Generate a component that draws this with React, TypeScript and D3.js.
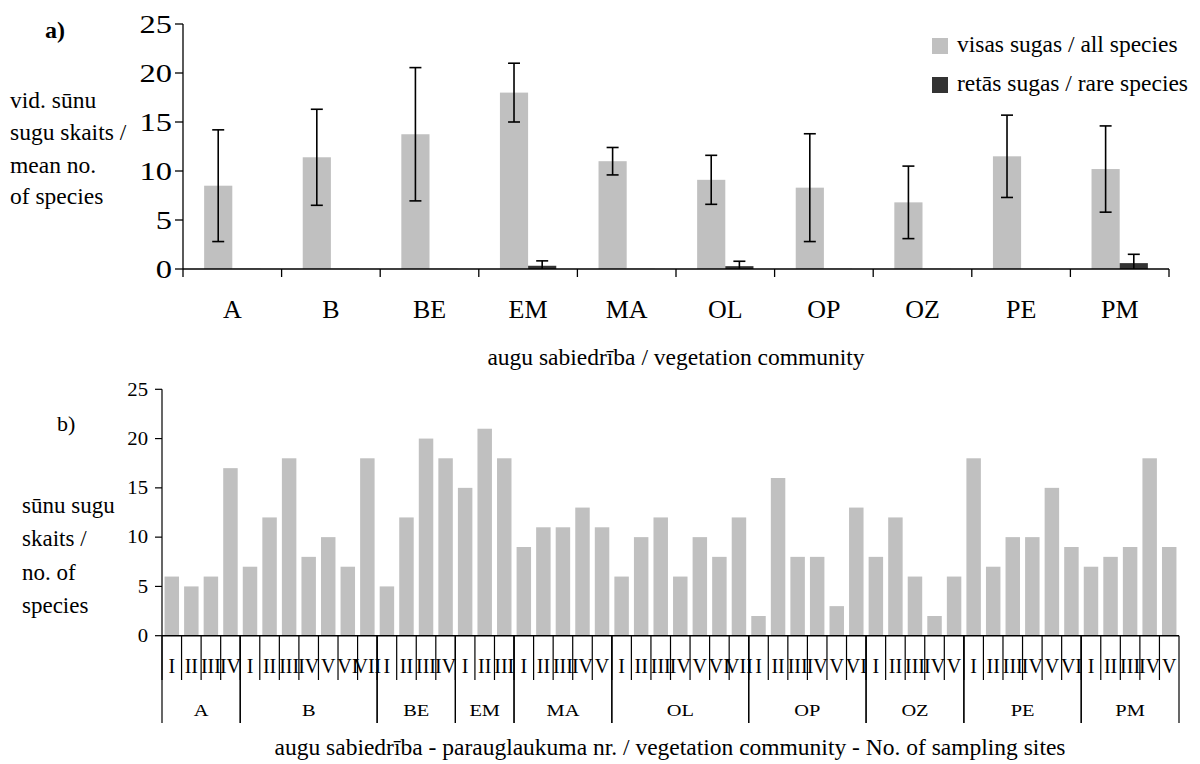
import React from "react";
import * as d3 from "d3";

const communities = ["A", "B", "BE", "EM", "MA", "OL", "OP", "OZ", "PE", "PM"];
const meanAll = [8.5, 11.4, 13.75, 18, 11, 9.1, 8.3, 6.8, 11.5, 10.2];
const sdAll = [5.7, 4.9, 6.8, 3.0, 1.4, 2.5, 5.5, 3.7, 4.2, 4.4];
const meanRare = [0, 0, 0, 0.33, 0, 0.29, 0, 0, 0, 0.6];
const sdRare = [0, 0, 0, 0.5, 0, 0.5, 0, 0, 0, 0.9];

const siteCounts = [4, 7, 4, 3, 5, 7, 6, 5, 6, 5];
const siteValues = [
  6, 5, 6, 17,
  7, 12, 18, 8, 10, 7, 18,
  5, 12, 20, 18,
  15, 21, 18,
  9, 11, 11, 13, 11,
  6, 10, 12, 6, 10, 8, 12,
  2, 16, 8, 8, 3, 13,
  8, 12, 6, 2, 6,
  18, 7, 10, 10, 15, 9,
  7, 8, 9, 18, 9,
];
const romans = ["I", "II", "III", "IV", "V", "VI", "VII"];
const yTicks = [0, 5, 10, 15, 20, 25];

const FONT = "'Liberation Serif', 'Times New Roman', serif";
const GRAY = "#c0c0c0";
const DARK = "#333333";

function T(props: {
  x: number;
  y: number;
  size: number;
  sx?: number;
  anchor?: "start" | "middle" | "end";
  bold?: boolean;
  dy?: string;
  children: React.ReactNode;
}) {
  const { x, y, size, sx = 1, anchor = "start", bold, dy, children } = props;
  return (
    <text
      transform={`translate(${x},${y}) scale(${sx},1)`}
      fontSize={size}
      textAnchor={anchor}
      fontWeight={bold ? "bold" : "normal"}
      dy={dy}
    >
      {children}
    </text>
  );
}

export default function App() {
  // ---- top chart ----
  const yT = d3.scaleLinear().domain([0, 25]).range([269, 24]);
  const xT = d3.scaleBand().domain(communities).range([183, 1169]).padding(0);
  const x1 = d3
    .scaleBand()
    .domain(["all", "rare"])
    .range([0, xT.bandwidth()])
    .paddingInner(0)
    .paddingOuter(0.75);

  // ---- bottom chart ----
  const sites: { id: string; comm: string; roman: string; value: number }[] = [];
  let k = 0;
  communities.forEach((c, ci) => {
    for (let i = 0; i < siteCounts[ci]; i++) {
      sites.push({ id: c + "-" + romans[i], comm: c, roman: romans[i], value: siteValues[k++] });
    }
  });
  const yB = d3.scaleLinear().domain([0, 25]).range([635.7, 389.3]);
  const xB = d3
    .scaleBand()
    .domain(sites.map((s) => s.id))
    .range([162, 1179])
    .paddingInner(0.26)
    .paddingOuter(0.13);
  const step = xB.step();
  const siteLeft = (i: number) => 162 + i * step;

  const groupBounds: { comm: string; start: number; end: number }[] = [];
  let idx = 0;
  communities.forEach((c, ci) => {
    groupBounds.push({ comm: c, start: siteLeft(idx), end: siteLeft(idx + siteCounts[ci]) });
    idx += siteCounts[ci];
  });

  const cap = 6;

  return (
    <svg width={1200} height={764} style={{ position: "absolute", left: 0, top: 0 }} fontFamily={FONT}>
      <rect x={0} y={0} width={1200} height={764} fill="#fff" />
      {/* ===== TOP ===== */}
      <T x={45} y={38} size={24} bold>a)</T>
      {["vid. sūnu", "sugu skaits /", "mean no.", "of species"].map((t, i) => (
        <T key={t} x={10} y={[108, 140, 173, 204][i]} size={23.5}>{t}</T>
      ))}
      {/* bars */}
      {communities.map((c, i) => {
        const x0 = xT(c)!;
        return (
          <g key={c}>
            <rect
              x={x0 + x1("all")!}
              y={yT(meanAll[i])}
              width={x1.bandwidth()}
              height={yT(0) - yT(meanAll[i])}
              fill={GRAY}
            />
            <rect
              x={x0 + x1("rare")!}
              y={yT(meanRare[i]) - (meanRare[i] === 0 ? 1 : 0)}
              width={x1.bandwidth()}
              height={Math.max(1, yT(0) - yT(meanRare[i]))}
              fill={meanRare[i] === 0 ? "#e6e6e6" : DARK}
            />
          </g>
        );
      })}
      {/* error bars */}
      {communities.map((c, i) => {
        const cx = xT(c)! + x1("all")! + x1.bandwidth() / 2;
        const hi = yT(meanAll[i] + sdAll[i]);
        const lo = yT(meanAll[i] - sdAll[i]);
        return (
          <g key={"e" + c} stroke="#000" strokeWidth={1.6}>
            <line x1={cx} x2={cx} y1={hi} y2={lo} />
            <line x1={cx - cap} x2={cx + cap} y1={hi} y2={hi} />
            <line x1={cx - cap} x2={cx + cap} y1={lo} y2={lo} />
          </g>
        );
      })}
      {communities.map((c, i) => {
        if (meanRare[i] === 0) return null;
        const cx = xT(c)! + x1("rare")! + x1.bandwidth() / 2;
        const hi = yT(meanRare[i] + sdRare[i]);
        const lo = yT(Math.max(0, meanRare[i] - sdRare[i]));
        return (
          <g key={"r" + c} stroke="#000" strokeWidth={1.6}>
            <line x1={cx} x2={cx} y1={hi} y2={lo} />
            <line x1={cx - cap} x2={cx + cap} y1={hi} y2={hi} />
          </g>
        );
      })}
      {/* axes */}
      <line x1={183} x2={183} y1={yT(25)} y2={yT(0)} stroke="#000" strokeWidth={1.3} />
      <line x1={183} x2={1169} y1={yT(0)} y2={yT(0)} stroke="#000" strokeWidth={1.3} />
      {yTicks.map((t) => (
        <g key={"yt" + t}>
          <line x1={175} x2={183} y1={yT(t)} y2={yT(t)} stroke="#000" strokeWidth={1.3} />
          <T x={172} y={yT(t)} dy="0.35em" anchor="end" size={25} sx={1.3}>{t}</T>
        </g>
      ))}
      {communities.map((c) => (
        <line key={"xt" + c} x1={xT(c)!} x2={xT(c)!} y1={yT(0)} y2={yT(0) + 8} stroke="#000" strokeWidth={1.3} />
      ))}
      <line x1={1169} x2={1169} y1={yT(0)} y2={yT(0) + 8} stroke="#000" strokeWidth={1.3} />
      {communities.map((c) => (
        <T key={"xl" + c} x={xT(c)! + xT.bandwidth() / 2} y={318} anchor="middle" size={26}>{c}</T>
      ))}
      <T x={676} y={365} anchor="middle" size={23.5}>augu sabiedrība / vegetation community</T>
      {/* legend */}
      <rect x={932} y={38} width={16} height={16} fill={GRAY} />
      <T x={957} y={52} size={23.5}>visas sugas / all species</T>
      <rect x={932} y={77} width={16} height={16} fill={DARK} />
      <T x={957} y={91} size={23.5}>retās sugas / rare species</T>

      {/* ===== BOTTOM ===== */}
      <T x={57} y={431} size={22}>b)</T>
      {["sūnu sugu", "skaits /", "no. of", "species"].map((t, i) => (
        <T key={t} x={22} y={[513, 546, 580, 613][i]} size={23}>{t}</T>
      ))}
      {sites.map((s) => (
        <rect
          key={s.id}
          x={xB(s.id)!}
          y={yB(s.value)}
          width={xB.bandwidth()}
          height={yB(0) - yB(s.value)}
          fill={GRAY}
        />
      ))}
      <line x1={162} x2={162} y1={yB(25)} y2={yB(0)} stroke="#000" strokeWidth={1.2} />
      <line x1={162} x2={1179} y1={yB(0)} y2={yB(0)} stroke="#000" strokeWidth={1.5} />
      {yTicks.map((t) => (
        <g key={"ybt" + t}>
          <line x1={155} x2={162} y1={yB(t)} y2={yB(t)} stroke="#000" strokeWidth={1.2} />
          <T x={148} y={yB(t)} dy="0.35em" anchor="end" size={18} sx={1.15}>{t}</T>
        </g>
      ))}
      {sites.map((s, i) => (
        <g key={"sl" + s.id}>
          <line x1={siteLeft(i)} x2={siteLeft(i)} y1={yB(0)} y2={680} stroke="#000" strokeWidth={1.2} />
          <T x={siteLeft(i) + step / 2} y={673} anchor="middle" size={20}>{s.roman}</T>
        </g>
      ))}
      {groupBounds.map((g) => (
        <g key={"gb" + g.comm}>
          <line x1={g.start} x2={g.start} y1={yB(0)} y2={723} stroke="#000" strokeWidth={1.2} />
          <line x1={g.end} x2={g.end} y1={yB(0)} y2={723} stroke="#000" strokeWidth={1.2} />
          <T x={(g.start + g.end) / 2} y={716} anchor="middle" size={17} sx={1.2}>{g.comm}</T>
        </g>
      ))}
      <T x={670} y={755} anchor="middle" size={23.5}>
        augu sabiedrība - parauglaukuma nr. / vegetation community - No. of sampling sites
      </T>
    </svg>
  );
}
